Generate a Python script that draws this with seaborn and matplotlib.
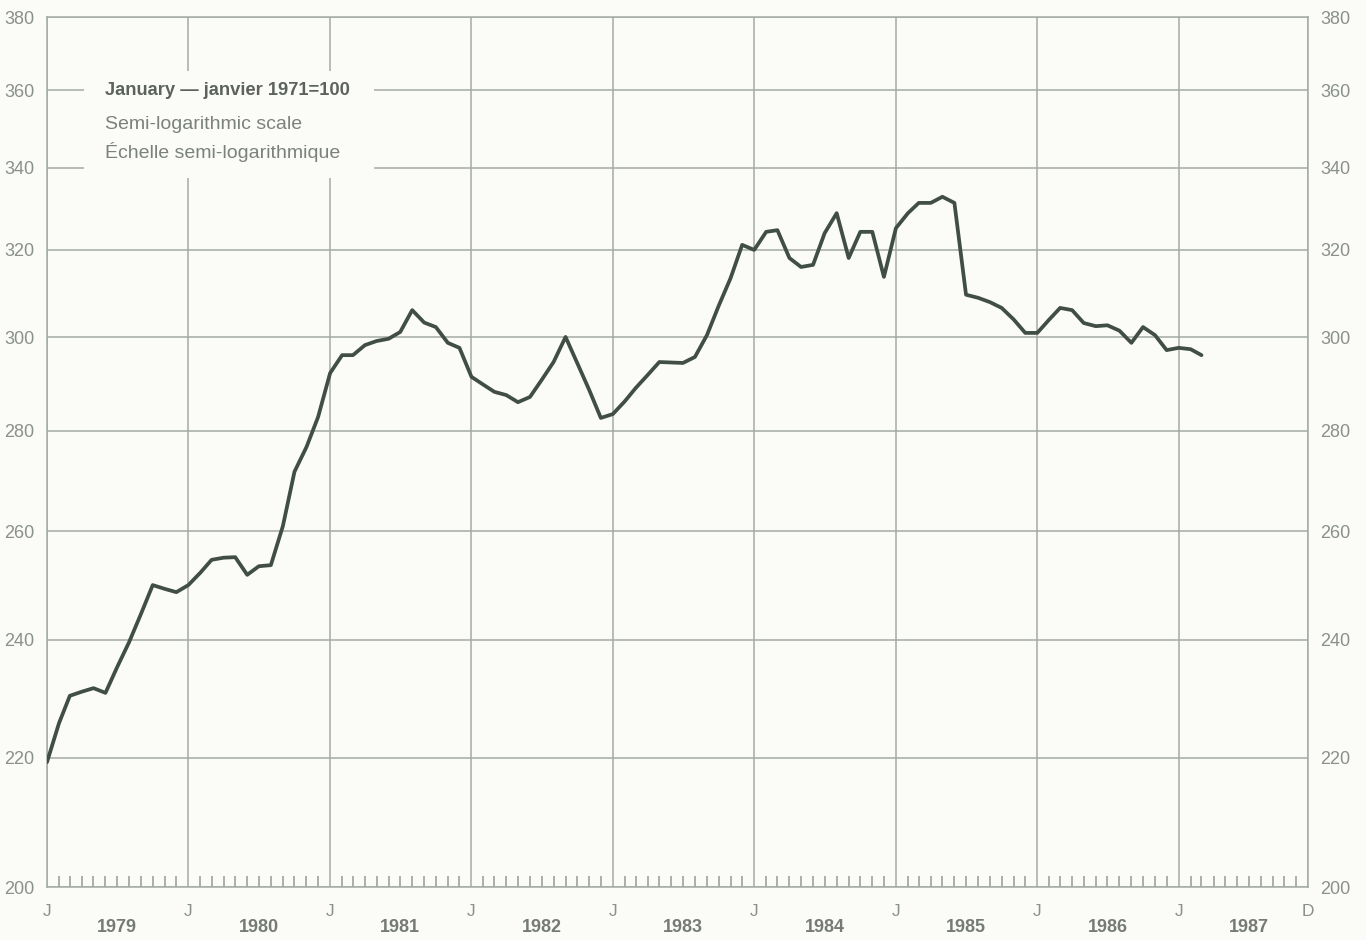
import seaborn as sns
import matplotlib.pyplot as plt
import matplotlib.dates as mdates
from matplotlib.ticker import FixedLocator, NullLocator
from matplotlib.patches import Rectangle
import pandas as pd

# monthly index, January 1971 = 100
idx_1979 = [219.3, 225.7, 230.3, 231.0, 231.6, 230.8, 235.2, 239.6, 244.7, 249.9, 249.2, 248.6]
idx_1980 = [249.9, 252.2, 254.6, 255.0, 255.1, 251.8, 253.4, 253.6, 261.0, 271.7, 276.7, 282.9]
idx_1981 = [292.2, 296.1, 296.1, 298.3, 299.2, 299.7, 301.2, 306.1, 303.3, 302.3, 298.8, 297.7]
idx_1982 = [291.4, 289.7, 288.2, 287.5, 286.0, 287.1, 290.7, 294.6, 300.1, 294.4, 288.6, 282.7]
idx_1983 = [283.5, 286.2, 289.0, 291.8, 294.6, 294.5, 294.4, 295.7, 300.5, 307.0, 313.4, 321.2]
idx_1984 = [320.0, 324.3, 324.7, 318.1, 316.0, 316.5, 324.0, 328.8, 318.1, 324.3, 324.3, 313.7]
idx_1985 = [325.2, 328.8, 331.3, 331.3, 332.8, 331.3, 309.6, 308.9, 307.9, 306.6, 304.0, 301.0]
idx_1986 = [301.0, 304.0, 306.6, 306.1, 303.2, 302.5, 302.7, 301.5, 298.8, 302.3, 300.5, 297.2]
idx_1987 = [297.7, 297.4, 296.1]

years = [1979, 1980, 1981, 1982, 1983, 1984, 1985, 1986, 1987]
y_ticks = [200, 220, 240, 260, 280, 300, 320, 340, 360, 380]

values = (idx_1979 + idx_1980 + idx_1981 + idx_1982 + idx_1983
          + idx_1984 + idx_1985 + idx_1986 + idx_1987)
df = pd.DataFrame({
    "month": pd.date_range("1979-01-01", periods=len(values), freq="MS"),
    "index": values,
})

sns.set_theme(style="white")
plt.rcParams["font.family"] = ["Liberation Sans", "DejaVu Sans"]

grid_col = "#a4aaa4"
text_col = "#8a908a"
bg = "#fbfcf8"

fig = plt.figure(figsize=(13.66, 9.4), dpi=100, facecolor=bg)
ax = fig.add_axes([47 / 1366, 1 - 887 / 940, 1261 / 1366, 870 / 940])
ax.set_facecolor(bg)

sns.lineplot(data=df, x="month", y="index", ax=ax, color="#414e45",
             linewidth=2.7, zorder=3)

ax.set_yscale("log")
ax.set_ylim(200, 380)
ax.yaxis.set_major_locator(FixedLocator(y_ticks))
ax.yaxis.set_minor_locator(NullLocator())
ax.set_yticklabels([str(v) for v in y_ticks])

start = pd.Timestamp("1979-01-01")
end = pd.Timestamp("1987-12-01")
ax.set_xlim(start, end)
jans = [pd.Timestamp(f"{y}-01-01") for y in years]
ax.xaxis.set_major_locator(FixedLocator(mdates.date2num(jans + [end])))
ax.set_xticklabels(["J"] * len(jans) + ["D"])
ax.xaxis.set_minor_locator(mdates.MonthLocator())

ax.grid(True, which="major", color=grid_col, linewidth=1.1)
ax.set_axisbelow(True)
for s in ax.spines.values():
    s.set_color(grid_col)
    s.set_linewidth(1.1)

ax.tick_params(axis="y", which="both", length=0, labelsize=13,
               labelcolor=text_col, labelleft=True, labelright=True, pad=9)
ax.tick_params(axis="x", which="major", length=0, labelsize=12.5,
               labelcolor=text_col, pad=12)
ax.tick_params(axis="x", which="minor", direction="in", length=8,
               width=1.1, color="#959b95", bottom=True)
ax.set_xlabel("")
ax.set_ylabel("")

# year names under the middle of each year
for y in years:
    ax.text(mdates.date2num(pd.Timestamp(f"{y}-07-01")), -0.047, str(y),
            transform=ax.get_xaxis_transform(), ha="center", va="center",
            fontsize=13, fontweight="bold", color="#767b76")

# white panel behind the note
ax.add_patch(Rectangle((0.029, 0.815), 0.23, 0.123, transform=ax.transAxes,
                       facecolor=bg, edgecolor="none", zorder=2))
ax.text(0.046, 0.915, "January — janvier 1971=100", transform=ax.transAxes,
        fontsize=13.2, fontweight="bold", color="#5c625c", va="center", zorder=4)
ax.text(0.046, 0.876, "Semi-logarithmic scale", transform=ax.transAxes,
        fontsize=14, color="#7b817b", va="center", zorder=4)
ax.text(0.046, 0.845, "Échelle semi-logarithmique", transform=ax.transAxes,
        fontsize=14, color="#7b817b", va="center", zorder=4)

fig.savefig("out.png", dpi=100, facecolor=fig.get_facecolor())
